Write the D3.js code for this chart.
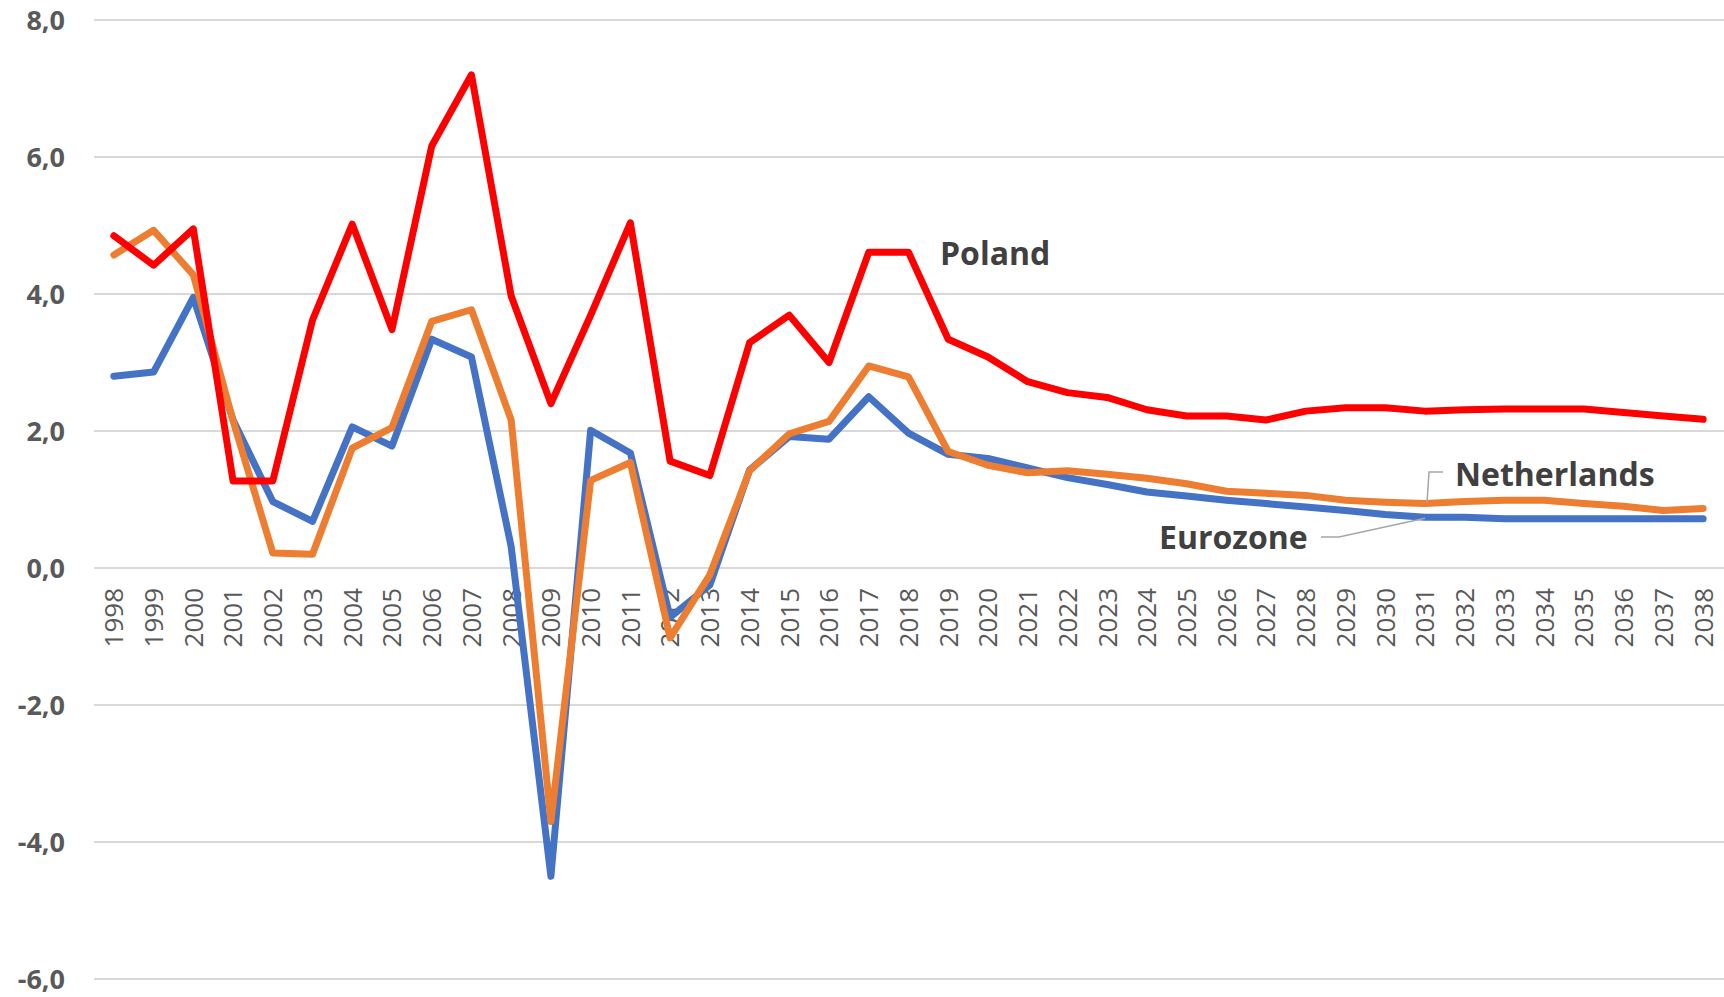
<!DOCTYPE html>
<html>
<head>
<meta charset="utf-8">
<script src="https://cdn.jsdelivr.net/npm/d3@7"></script>
<style>
	body { margin: 0; background: #fff; }
	svg text { font-family: "Open Sans", "Noto Sans", sans-serif; }
</style>
</head>
<body>
<div id="chart"></div>
<script>

///////////////////////////////////////////////////////////////////////////
//////////////////////////////// The data /////////////////////////////////
///////////////////////////////////////////////////////////////////////////

var years = d3.range(1998, 2039).map(String);

var poland = [4.85, 4.42, 4.95, 1.27, 1.27, 3.62, 5.02, 3.48, 6.16, 7.2,
	3.97, 2.4, 3.69, 5.04, 1.56, 1.35, 3.29, 3.69, 3.0, 4.61,
	4.61, 3.34, 3.08, 2.72, 2.56, 2.49, 2.31, 2.22, 2.22, 2.16,
	2.29, 2.34, 2.34, 2.29, 2.31, 2.32, 2.32, 2.32, 2.27, 2.22, 2.17];

var netherlands = [4.57, 4.93, 4.28, 2.15, 0.22, 0.2, 1.75, 2.05, 3.6, 3.77,
	2.16, -3.7, 1.28, 1.54, -1.02, -0.1, 1.42, 1.96, 2.14, 2.95,
	2.79, 1.7, 1.5, 1.39, 1.42, 1.37, 1.31, 1.23, 1.12, 1.09,
	1.06, 0.99, 0.96, 0.94, 0.97, 0.99, 0.99, 0.94, 0.9, 0.84, 0.87];

var eurozone = [2.8, 2.86, 3.95, 2.16, 0.97, 0.68, 2.06, 1.78, 3.34, 3.08,
	0.31, -4.5, 2.01, 1.68, -0.72, -0.25, 1.43, 1.92, 1.88, 2.5,
	1.97, 1.66, 1.6, 1.46, 1.32, 1.22, 1.11, 1.05, 0.99, 0.94,
	0.89, 0.84, 0.78, 0.74, 0.74, 0.72, 0.72, 0.72, 0.72, 0.72, 0.72];

var yTicks = [8, 6, 4, 2, 0, -2, -4, -6];

var series = [
	{ name: "Eurozone", values: eurozone, color: "#4472C4" },
	{ name: "Netherlands", values: netherlands, color: "#ED7D31" },
	{ name: "Poland", values: poland, color: "#FF0000" }
];

///////////////////////////////////////////////////////////////////////////
//////////////////// Set up and initiate svg containers ///////////////////
///////////////////////////////////////////////////////////////////////////

var width = 1724,
	height = 997;

var svg = d3.select("#chart")
	.append("svg")
	.attr("width", width)
	.attr("height", height);

var x = d3.scalePoint()
	.domain(years)
	.range([94, 1723])
	.padding(0.5);

var y = d3.scaleLinear()
	.domain([-6, 8])
	.range([979, 20]);

///////////////////////////////////////////////////////////////////////////
////////////////////////////// Grid and axes //////////////////////////////
///////////////////////////////////////////////////////////////////////////

var grid = svg.append("g").attr("class", "grid");

grid.selectAll("line")
	.data(yTicks)
	.enter().append("line")
	.attr("x1", 94)
	.attr("x2", 1724)
	.attr("y1", function(d) { return y(d); })
	.attr("y2", function(d) { return y(d); })
	.style("stroke", "#d9d9d9")
	.style("stroke-width", 2);

svg.append("g").attr("class", "yLabels")
	.selectAll("text")
	.data(yTicks)
	.enter().append("text")
	.attr("x", 65)
	.attr("y", function(d) { return y(d); })
	.attr("dy", "0.36em")
	.attr("text-anchor", "end")
	.style("font-size", "27px")
	.style("font-weight", 700)
	.style("fill", "#595959")
	.text(function(d) { return d3.format(".1f")(d).replace(".", ",").replace("−", "-"); });

svg.append("g").attr("class", "xLabels")
	.selectAll("text")
	.data(years)
	.enter().append("text")
	.attr("transform", function(d) { return "translate(" + x(d) + "," + (y(0) + 20) + ") rotate(-90)"; })
	.attr("dy", "0.36em")
	.attr("text-anchor", "end")
	.style("font-size", "26px")
	.style("fill", "#595959")
	.text(function(d) { return d; });

///////////////////////////////////////////////////////////////////////////
//////////////////////////////// The lines ////////////////////////////////
///////////////////////////////////////////////////////////////////////////

var line = d3.line()
	.x(function(d, i) { return x(years[i]); })
	.y(function(d) { return y(d); });

svg.append("g").attr("class", "lines")
	.selectAll("path")
	.data(series)
	.enter().append("path")
	.attr("d", function(d) { return line(d.values); })
	.style("fill", "none")
	.style("stroke", function(d) { return d.color; })
	.style("stroke-width", 7)
	.style("stroke-linejoin", "round")
	.style("stroke-linecap", "round");

///////////////////////////////////////////////////////////////////////////
//////////////////////////// Labels and leaders ///////////////////////////
///////////////////////////////////////////////////////////////////////////

var labelStyle = function(sel) {
	sel.style("font-size", "32px")
		.style("font-weight", 700)
		.style("fill", "#404040");
};

svg.append("text")
	.attr("x", 940)
	.attr("y", 265)
	.call(labelStyle)
	.text("Poland");

svg.append("text")
	.attr("x", 1455)
	.attr("y", 486)
	.call(labelStyle)
	.text("Netherlands");

svg.append("text")
	.attr("x", 1159)
	.attr("y", 549)
	.call(labelStyle)
	.text("Eurozone");

var i31 = years.indexOf("2031");

svg.append("path")
	.attr("d", "M" + (x("2031") + 2) + "," + (y(netherlands[i31]) - 1) +
		"L" + (x("2031") + 4) + "," + 472 + "L" + 1443 + "," + 472)
	.style("fill", "none")
	.style("stroke", "#a6a6a6")
	.style("stroke-width", 1.5);

svg.append("path")
	.attr("d", "M" + 1321 + "," + 537 + "L" + 1339 + "," + 537 +
		"L" + x("2031") + "," + (y(eurozone[i31]) + 1))
	.style("fill", "none")
	.style("stroke", "#a6a6a6")
	.style("stroke-width", 1.5);

</script>
</body>
</html>
